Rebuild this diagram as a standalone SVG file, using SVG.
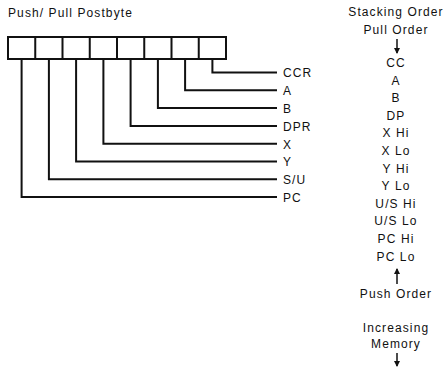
<svg xmlns="http://www.w3.org/2000/svg" width="445" height="367" viewBox="0 0 445 367">
<style>
text{font-family:"Liberation Sans",Arial,sans-serif;font-size:12px;letter-spacing:1.1px;fill:#111}
.c{text-anchor:middle}
.ln{fill:none;stroke:#111;stroke-width:2;stroke-linecap:square}
.ar{fill:none;stroke:#111;stroke-width:1.5}
</style>
<defs>
<marker id="ah" viewBox="0 0 6 8" refX="5" refY="4" markerWidth="6" markerHeight="8" markerUnits="userSpaceOnUse" orient="auto">
<path d="M0,1 L6,4 L0,7 z" fill="#111"/>
</marker>
</defs>
<text x="8" y="17">Push/ Pull Postbyte</text>
<g id="postbyte">
<rect class="ln" x="8" y="37" width="218" height="22"/>
<path class="ln" d="M35.25,37V59M62.5,37V59M89.75,37V59M117,37V59M144.25,37V59M171.5,37V59M198.75,37V59"/>
</g>
<g id="connectors">
<path class="ln" d="M212.4,59V72.5H276"/>
<path class="ln" d="M185.1,59V90.3H276"/>
<path class="ln" d="M157.9,59V108.1H276"/>
<path class="ln" d="M130.6,59V125.9H276"/>
<path class="ln" d="M103.4,59V143.7H276"/>
<path class="ln" d="M76.1,59V161.5H276"/>
<path class="ln" d="M48.9,59V179.3H276"/>
<path class="ln" d="M21.6,59V197.1H276"/>
</g>
<g id="labels">
<text x="283" y="77">CCR</text>
<text x="283" y="95">A</text>
<text x="283" y="113">B</text>
<text x="283" y="130.5">DPR</text>
<text x="283" y="148.5">X</text>
<text x="283" y="166">Y</text>
<text x="283" y="184">S/U</text>
<text x="283" y="202">PC</text>
</g>
<g id="stacking">
<text class="c" x="396" y="16">Stacking Order</text>
<text class="c" x="396" y="34">Pull Order</text>
<line class="ar" x1="397" y1="39" x2="397" y2="53" marker-end="url(#ah)"/>
<text class="c" x="396" y="67">CC</text>
<text class="c" x="396" y="84.6">A</text>
<text class="c" x="396" y="102.2">B</text>
<text class="c" x="396" y="119.8">DP</text>
<text class="c" x="396" y="137.4">X Hi</text>
<text class="c" x="396" y="155">X Lo</text>
<text class="c" x="396" y="172.6">Y Hi</text>
<text class="c" x="396" y="190.2">Y Lo</text>
<text class="c" x="396" y="207.8">U/S Hi</text>
<text class="c" x="396" y="225.4">U/S Lo</text>
<text class="c" x="396" y="243">PC Hi</text>
<text class="c" x="396" y="260.6">PC Lo</text>
<line class="ar" x1="397" y1="284" x2="397" y2="269" marker-end="url(#ah)"/>
<text class="c" x="396" y="298">Push Order</text>
<text class="c" x="396" y="332">Increasing</text>
<text class="c" x="396" y="348">Memory</text>
<line class="ar" x1="397" y1="353" x2="397" y2="366" marker-end="url(#ah)"/>
</g>
</svg>
